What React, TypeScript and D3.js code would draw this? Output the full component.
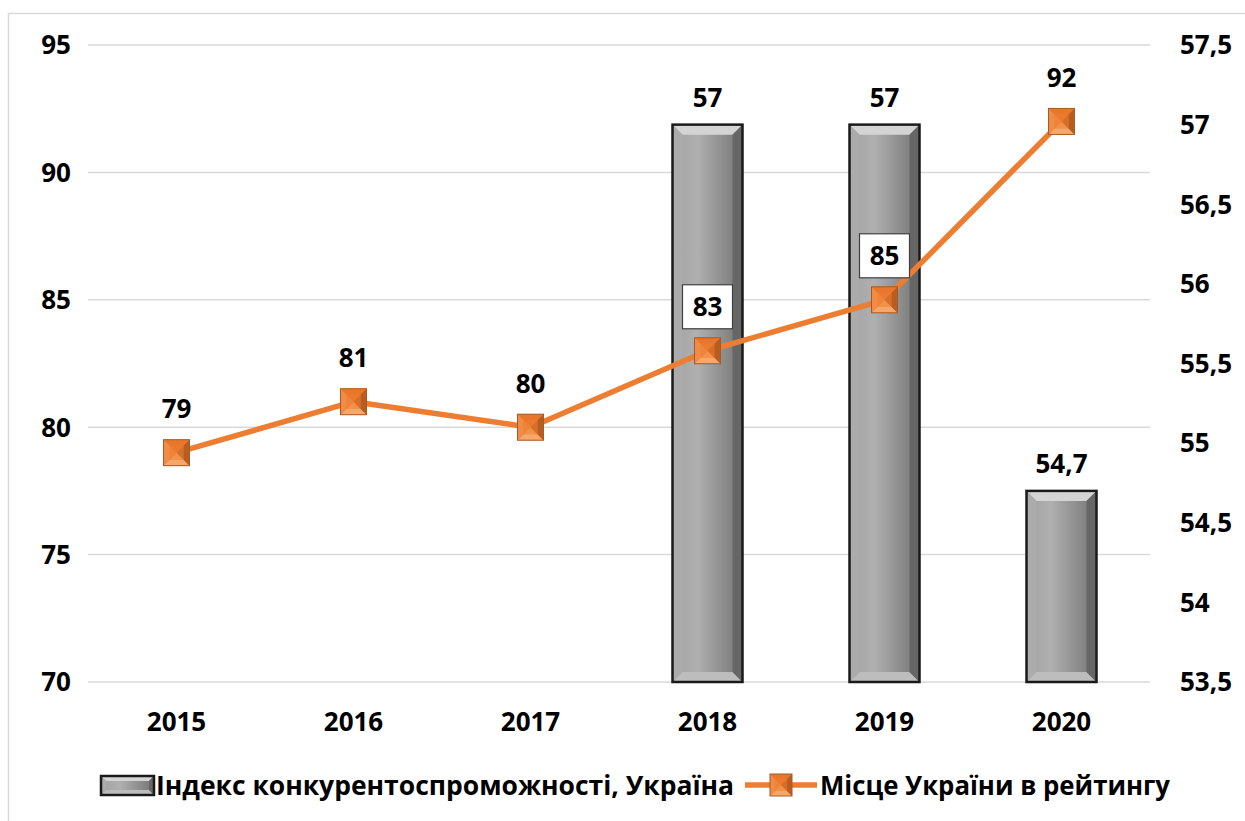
import React, { useRef, useEffect } from 'react';
import * as d3 from 'd3';

const years = ['2015', '2016', '2017', '2018', '2019', '2020'];
// Індекс конкурентоспроможності (right axis), null = no bar
const indexValues: (number | null)[] = [null, null, null, 57, 57, 54.7];
const indexLabels = ['', '', '', '57', '57', '54,7'];
// Місце України в рейтингу (left axis)
const rankValues = [79, 81, 80, 83, 85, 92];
const boxedRank = [false, false, false, true, true, false];
const leftTicks = [70, 75, 80, 85, 90, 95];
const rightTicks = [53.5, 54, 54.5, 55, 55.5, 56, 56.5, 57, 57.5];
const seriesNames = ['Індекс конкурентоспроможності, Україна', 'Місце України в рейтингу'];

const W = 1245;
const H = 821;
const FONT = '"Open Sans", sans-serif';
const ORANGE = '#ED7D31';

const fmt = (v: number) => String(v).replace('.', ',');

const App: React.FC = () => {
  const ref = useRef<SVGSVGElement>(null);

  useEffect(() => {
    if (!ref.current) return;
    const svg = d3.select(ref.current);
    svg.selectAll('*').remove();

    const margin = { top: 45, right: 95, bottom: 139, left: 88 };
    const x = d3.scaleBand().domain(years).range([margin.left, W - margin.right]).paddingInner(0).paddingOuter(0);
    const yL = d3.scaleLinear().domain([70, 95]).range([H - margin.bottom, margin.top]);
    const yR = d3.scaleLinear().domain([53.5, 57.5]).range([H - margin.bottom, margin.top]);

    const defs = svg.append('defs');
    const bodyGrad = defs.append('linearGradient').attr('id', 'barBody').attr('x1', 0).attr('x2', 1).attr('y1', 0).attr('y2', 0);
    bodyGrad.append('stop').attr('offset', '0%').attr('stop-color', '#a2a2a2');
    bodyGrad.append('stop').attr('offset', '35%').attr('stop-color', '#b0b0b0');
    bodyGrad.append('stop').attr('offset', '100%').attr('stop-color', '#747474');

    // chart frame
    svg.append('rect').attr('x', 8.5).attr('y', 13.5).attr('width', W).attr('height', H)
      .attr('fill', 'white').attr('stroke', '#d9d9d9').attr('stroke-width', 1.5);

    // gridlines
    svg.append('g').selectAll('line').data(leftTicks).join('line')
      .attr('x1', margin.left).attr('x2', W - margin.right)
      .attr('y1', d => yL(d)).attr('y2', d => yL(d))
      .attr('stroke', '#d9d9d9').attr('stroke-width', 1.5);

    // left ticks
    svg.append('g').selectAll('text').data(leftTicks).join('text')
      .attr('x', 56).attr('y', d => yL(d)).attr('dy', '0.36em')
      .attr('text-anchor', 'middle').text(d => String(d));

    // right ticks
    svg.append('g').selectAll('text').data(rightTicks).join('text')
      .attr('x', 1180).attr('y', d => yR(d)).attr('dy', '0.36em')
      .attr('text-anchor', 'start').text(d => fmt(d));

    // x labels
    svg.append('g').selectAll('text').data(years).join('text')
      .attr('x', d => x(d)! + x.bandwidth() / 2).attr('y', 722).attr('dy', '0.36em')
      .attr('text-anchor', 'middle').text(d => d);

    const drawBar = (g: d3.Selection<SVGGElement, unknown, null, undefined>, x0: number, y0: number, w: number, h: number, bv: number) => {
      const x1 = x0 + w, y1 = y0 + h;
      g.append('rect').attr('x', x0).attr('y', y0).attr('width', w).attr('height', h).attr('fill', 'url(#barBody)');
      const poly = (pts: number[][], fill: string) =>
        g.append('polygon').attr('points', pts.map(p => p.join(',')).join(' ')).attr('fill', fill);
      poly([[x0, y0], [x1, y0], [x1 - bv, y0 + bv], [x0 + bv, y0 + bv]], '#d4d4d4');
      poly([[x0, y1], [x1, y1], [x1 - bv, y1 - bv], [x0 + bv, y1 - bv]], '#bdbdbd');
      poly([[x0, y0], [x0 + bv, y0 + bv], [x0 + bv, y1 - bv], [x0, y1]], '#ababab');
      poly([[x1, y0], [x1 - bv, y0 + bv], [x1 - bv, y1 - bv], [x1, y1]], '#666666');
      g.append('rect').attr('x', x0).attr('y', y0).attr('width', w).attr('height', h)
        .attr('fill', 'none').attr('stroke', '#1a1a1a').attr('stroke-width', 2.5);
    };

    // bars
    const barW = 70;
    const barsG = svg.append('g');
    years.forEach((yr, i) => {
      const v = indexValues[i];
      if (v == null) return;
      const cx = x(yr)! + x.bandwidth() / 2;
      const top = yR(v);
      drawBar(barsG.append('g'), cx - barW / 2, top, barW, yR(53.5) - top, 10);
      barsG.append('text').attr('x', cx).attr('y', top - 27).attr('dy', '0.36em')
        .attr('text-anchor', 'middle').text(indexLabels[i]);
    });

    // line
    const line = d3.line<number>().x((_, i) => x(years[i])! + x.bandwidth() / 2).y(d => yL(d));
    svg.append('path').datum(rankValues).attr('d', line).attr('fill', 'none')
      .attr('stroke', ORANGE).attr('stroke-width', 5.5).attr('stroke-linejoin', 'round');

    const drawMarker = (g: d3.Selection<SVGGElement, unknown, null, undefined>, cx: number, cy: number, s: number) => {
      const h = s / 2, b = s * 0.22;
      const x0 = cx - h, x1 = cx + h, y0 = cy - h, y1 = cy + h;
      const poly = (pts: number[][], fill: string) =>
        g.append('polygon').attr('points', pts.map(p => p.join(',')).join(' ')).attr('fill', fill);
      g.append('rect').attr('x', x0).attr('y', y0).attr('width', s).attr('height', s).attr('fill', ORANGE);
      poly([[x0, y0], [x1, y0], [cx, cy]], '#e8772c');
      poly([[x0, y1], [x1, y1], [cx, cy]], '#f6a86a');
      poly([[x0, y0], [cx, cy], [x0, y1]], '#f08c45');
      poly([[x1, y0], [cx, cy], [x1, y1]], '#b85d20');
      g.append('rect').attr('x', x0 + b).attr('y', y0 + b).attr('width', s - 2 * b).attr('height', s - 2 * b)
        .attr('fill', ORANGE).attr('opacity', 0.55);
      g.append('rect').attr('x', x0).attr('y', y0).attr('width', s).attr('height', s)
        .attr('fill', 'none').attr('stroke', '#a85a25').attr('stroke-width', 1);
    };

    const markG = svg.append('g');
    rankValues.forEach((v, i) => {
      const cx = x(years[i])! + x.bandwidth() / 2;
      const cy = yL(v);
      drawMarker(markG.append('g'), cx, cy, 26);
      const ly = cy - 44;
      if (boxedRank[i]) {
        markG.append('rect').attr('x', cx - 25).attr('y', ly - 22).attr('width', 50).attr('height', 44)
          .attr('fill', 'white').attr('stroke', '#404040').attr('stroke-width', 1.2);
      }
      markG.append('text').attr('x', cx).attr('y', ly).attr('dy', '0.36em')
        .attr('text-anchor', 'middle').text(String(v));
    });

    // legend
    const lg = svg.append('g');
    drawBar(lg.append('g'), 101, 776, 53, 19, 5);
    lg.append('text').attr('x', 156).attr('y', 786).attr('dy', '0.36em').text(seriesNames[0])
      .attr('textLength', 578).attr('lengthAdjust', 'spacingAndGlyphs');
    lg.append('line').attr('x1', 745).attr('x2', 817).attr('y1', 785).attr('y2', 785)
      .attr('stroke', ORANGE).attr('stroke-width', 5.5);
    drawMarker(lg.append('g'), 781, 785, 22);
    lg.append('text').attr('x', 820).attr('y', 786).attr('dy', '0.36em').text(seriesNames[1])
      .attr('textLength', 350).attr('lengthAdjust', 'spacingAndGlyphs');

    svg.selectAll('text').attr('font-family', FONT).attr('font-weight', 700)
      .attr('font-size', 26).attr('fill', '#000');
  }, []);

  return (
    <svg ref={ref} width={W} height={H} viewBox={`0 0 ${W} ${H}`}
      style={{ position: 'absolute', left: 0, top: 0, background: 'white' }} />
  );
};

export default App;
